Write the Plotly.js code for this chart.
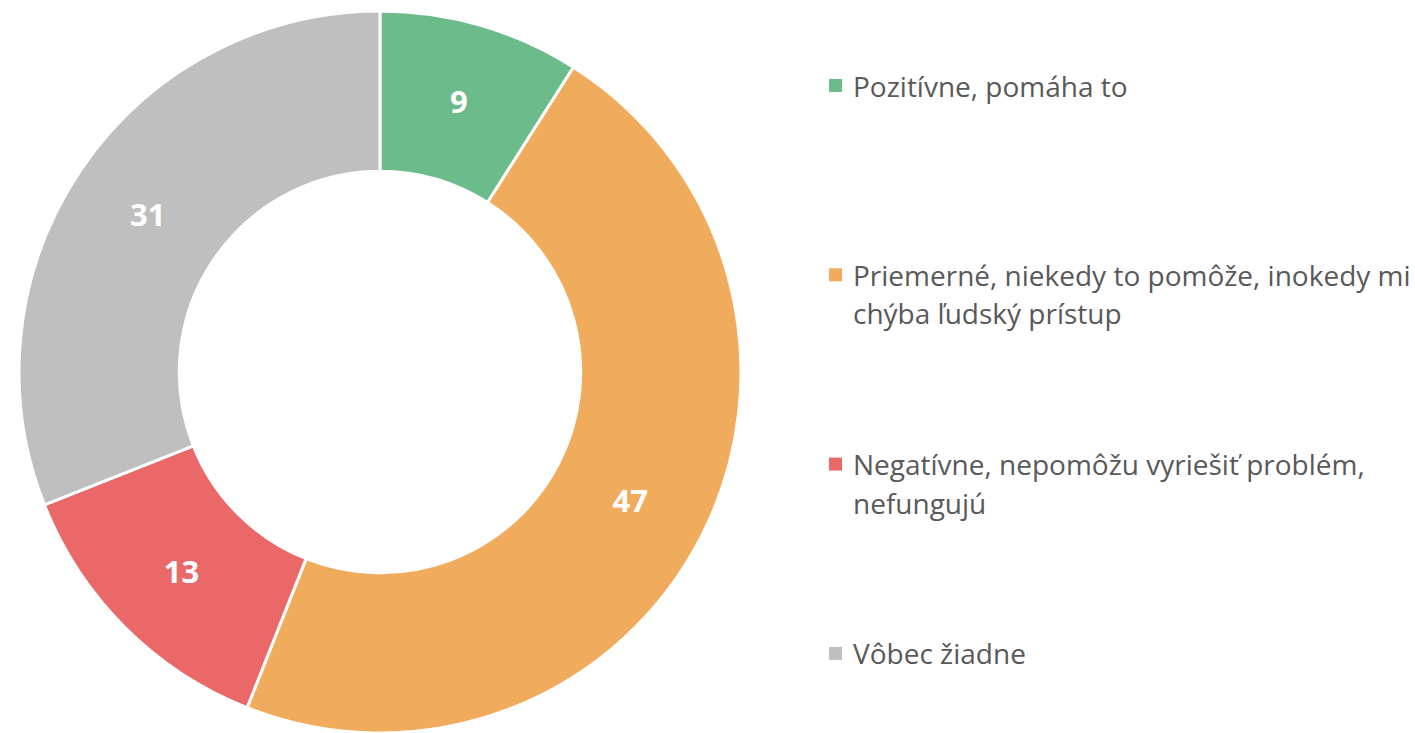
<!DOCTYPE html>
<html>
<head>
<meta charset="utf-8">
<script src="https://cdn.plot.ly/plotly-3.0.1.min.js"></script>
<style>html,body{margin:0;padding:0;background:#fff;}#chart{width:1415px;height:733px;}</style>
</head>
<body>
<div id="chart"></div>
<script>
// Data
const legendLines = [
  ["Pozitívne, pomáha to"],
  ["Priemerné, niekedy to pomôže, inokedy mi", "chýba ľudský prístup"],
  ["Negatívne, nepomôžu vyriešiť problém,", "nefungujú"],
  ["Vôbec žiadne"]
];
const labels = legendLines.map(l => l.join(" "));
const values = [9, 47, 13, 31];
const colors = ["#6BBB8B", "#F1AB5D", "#EA6868", "#BFBFBF"];

// Layout constants (pixels)
const W = 1415, H = 733;
const cx = 380, R = 363, topY = 11;
const legendX = 853, sqX = 835.5, sq = 13;
const legendY0 = 85.5, itemGap = 189.3, lineGap = 38.5;

const px = x => x / W;
const py = y => 1 - y / H;

const shapes = [];
const annotations = [];
labels.forEach((lab, i) => {
  const yc = legendY0 + i * itemGap;
  shapes.push({
    type: "rect", xref: "paper", yref: "paper",
    x0: px(sqX - sq / 2), x1: px(sqX + sq / 2),
    y0: py(yc + sq / 2), y1: py(yc - sq / 2),
    fillcolor: colors[i], line: {width: 0}
  });
  legendLines[i].forEach((line, j) => {
    annotations.push({
      xref: "paper", yref: "paper",
      x: px(legendX - 2), y: py(yc + j * lineGap),
      xanchor: "left", yanchor: "middle",
      text: line, showarrow: false,
      font: {family: "Open Sans, sans-serif", size: 28, color: "#595959"}
    });
  });
});

const trace = {
  type: "pie",
  labels: labels,
  values: values,
  sort: false,
  direction: "clockwise",
  rotation: 0,
  hole: 0.556,
  marker: {colors: colors, line: {color: "#FFFFFF", width: 3}},
  textinfo: "value",
  textposition: "inside",
  insidetextorientation: "horizontal",
  textfont: {family: "Open Sans, sans-serif", size: 31, color: "#FFFFFF", weight: "bold"},
  hoverinfo: "label+value",
  domain: {x: [px(cx - R), px(cx + R)], y: [0, py(topY)]}
};

const layout = {
  width: W, height: H,
  margin: {l: 0, r: 0, t: 0, b: 0},
  paper_bgcolor: "#FFFFFF",
  plot_bgcolor: "#FFFFFF",
  showlegend: false,
  shapes: shapes,
  annotations: annotations
};

Plotly.newPlot("chart", [trace], layout, {displayModeBar: false, staticPlot: true});
</script>
</body>
</html>
